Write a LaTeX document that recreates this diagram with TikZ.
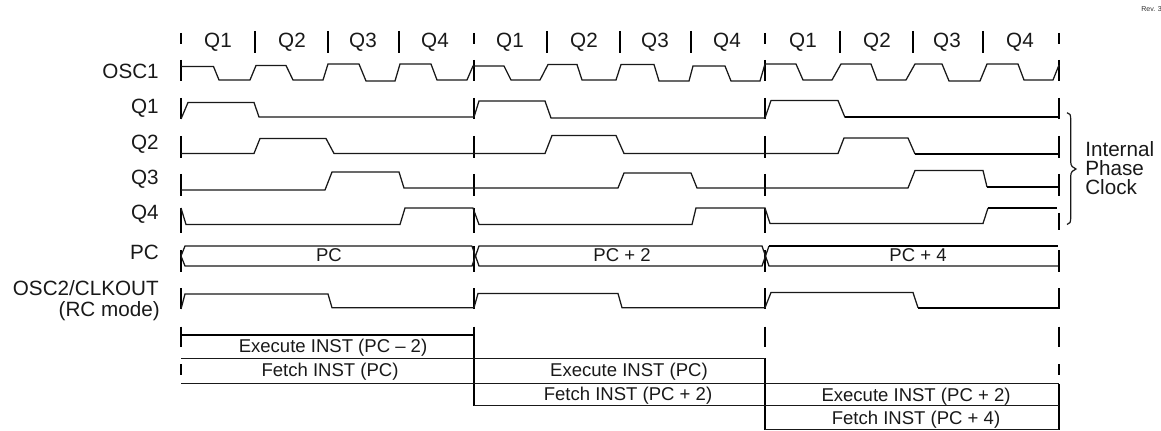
\documentclass[tikz,border=0pt]{standalone}
\usepackage{fontspec}
\setmainfont{Liberation Sans}
\tikzset{
  x=0.75pt,y=-0.75pt,
  wave/.style={line width=0.95pt,line join=miter,black!90},
  heavy/.style={line width=1.5pt,black},
  tick/.style={line width=1.7pt,black},
  rule/.style={line width=0.95pt,black!90},
  big/.style={font=\fontsize{15.5}{15.5}\selectfont,inner sep=0pt,text=black!90,anchor=base},
  mid/.style={font=\fontsize{13.9}{13.9}\selectfont,inner sep=0pt,text=black!90,anchor=base},
  lab/.style={big,anchor=base east},
  side/.style={big,anchor=base west},
}
\begin{document}
\begin{tikzpicture}
\useasboundingbox (0,0) rectangle (1161,431);
% top ticks
\foreach \x/\a/\b in {181/33/44,255/31/53,328/31/53,399/31/53,474/33/44,547/31/53,620/31/53,691/31/53,765/33/44,840/31/53,913/31/53,983/31/53,1059/33/44}
  \draw[tick] (\x,\a) -- (\x,\b);
% signal ticks
\foreach \a/\b in {60/81,98/119,136/158,174/196,208/233,288/309}
  \foreach \x in {181,474,765} \draw[tick] (\x,\a) -- (\x,\b);
\foreach \a/\b in {60/81,98/119,136/158,174/196,213/230,288/309}
  \draw[tick] (1059,\a) -- (1059,\b);
\foreach \x in {181,474,765} \draw[tick] (\x,250) -- (\x,272);
\draw[tick] (474,246) -- (474,272);
\draw[tick] (1059,250) -- (1059,272);
% lower ticks
\draw[tick] (181,326.5) -- (181,347);
\draw[tick] (181,364) -- (181,375);
\draw[tick] (474,326.5) -- (474,406);
\draw[tick] (765,326.5) -- (765,347);
\draw[tick] (765,358) -- (765,430);
\draw[tick] (1059,326.5) -- (1059,347);
\draw[tick] (1059,364) -- (1059,375);
\draw[tick] (1059,384) -- (1059,430);
% OSC1
\draw[wave] (181,66.5)--(213.5,66.5)--(219,80)--(250,80)--(256,65.5)--(286,65.5)--(293,80)--(323,80)--(328,64)--(359,64)--(366,81)--(395,81)--(400,64)--(431,64)--(437,80)--(467,80)--(473,66)--(504,66)--(511,80)--(540,80)--(548,64.5)--(577,64.5)--(582,80)--(616,80)--(621,64.5)--(654,64.5)--(659,81)--(689,81)--(693,66)--(725,66)--(731,81)--(760,81)--(765,64)--(796,64)--(803,80)--(832,80)--(841,64)--(871,64)--(877,80)--(906,80)--(915,64)--(942,64)--(949,81)--(980,81)--(987,64)--(1018,64)--(1024,80)--(1053,80)--(1059,65);
% Q1
\draw[wave] (181,119)--(188,102.5)--(254,102.5)--(259,117)--(474,117)--(479,101)--(545,101)--(551,118)--(765,118)--(771,100.5)--(838,100.5)--(845,117.5);
\draw[heavy] (845,117.5)--(1058,117.5);
% Q2
\draw[wave] (181,153.5)--(254,153.5)--(260,138.5)--(326,138.5)--(334,153.5)--(545,153.5)--(552,135.5)--(616,135.5)--(624,153.5)--(838,153.5)--(844,138)--(908,138)--(915,154);
\draw[heavy] (915,154)--(1058,154);
% Q3
\draw[wave] (181,190)--(325,190)--(332,172)--(399,172)--(404,188)--(618,188)--(624,173)--(691,173)--(697,188)--(908,188)--(915,170.5)--(983,170.5)--(987,187);
\draw[heavy] (987,187)--(1058,187);
% Q4
\draw[wave] (181,208)--(186,224.5)--(400,224.5)--(405,208)--(473,208)--(479,224.5)--(692,224.5)--(696,208)--(765,208)--(770,223.5)--(983,223.5)--(988,208);
\draw[heavy] (988,208)--(1057,208);
% PC bus
\draw[wave] (472,246)--(185,246)--(181,256)--(185,266)--(472,266)--(479,246)--(762,246)--(769,266)--(1058,266);
\draw[wave] (472,246)--(479,266)--(762,266)--(769,246);
\draw[heavy] (769,246)--(1058,246);
% OSC2
\draw[wave] (181,309)--(185,294)--(328,294)--(332,307.7)--(474,307.7)--(478,293.5)--(618,293.5)--(622,307.7)--(765,307.7)--(771,292.5)--(913,292.5)--(918,307.7);
\draw[heavy] (918,307.7)--(1059,307.7);
% activity rows
\draw[heavy] (181,335) -- (474,335);
\draw[rule] (181,358.3) -- (765,358.3);
\draw[rule] (181,383.5) -- (1059,383.5);
\draw[rule] (474,405.5) -- (1059,405.5);
\draw[rule] (765,429.7) -- (1059,429.7);
% brace
\draw[line width=0.9pt,black!90] (1067,112.7) .. controls (1070,113) and (1070.7,115) .. (1070.7,119) -- (1070.7,162) .. controls (1070.7,166) and (1073,168) .. (1076,169) .. controls (1073,170) and (1070.7,172) .. (1070.7,176) -- (1070.7,218) .. controls (1070.7,222) and (1070,224) .. (1067,224.5);
% labels
\foreach \n/\x/\y/\t in {a/218/48/Q1,b/292/47.5/Q2,c/363/48/Q3,d/435/47.5/Q4,e/510/48/Q1,f/584/47.5/Q2,g/655/48/Q3,h/727/47.5/Q4,i/803/48/Q1,j/877/47.5/Q2,k/947/48/Q3,l/1020/47.5/Q4}
  \node[big] (top\n) at (\x,\y) {\t};
\node[lab] (labs) at (159,79) {OSC1};
\node[lab] (labt) at (159,114) {Q1};
\node[lab] (labu) at (159,150) {Q2};
\node[lab] (labv) at (159,185) {Q3};
\node[lab] (labw) at (159,220) {Q4};
\node[lab] (labx) at (159,259) {PC};
\node[lab] (laby) at (159,296) {OSC2/CLKOUT};
\node[lab] (labz) at (160,316.7) {(RC mode)};
\node[mid] (pc0) at (329,261.7) {PC};
\node[mid] (pc2) at (622,261.7) {PC + 2};
\node[mid] (pc4) at (918,261.7) {PC + 4};
\node[mid] (r1) at (333,352.3) {Execute INST (PC – 2)};
\node[mid] (r2) at (330,376.7) {Fetch INST (PC)};
\node[mid] (r3) at (629,376.7) {Execute INST (PC)};
\node[mid] (r4) at (628,400.7) {Fetch INST (PC + 2)};
\node[mid] (r5) at (916,401) {Execute INST (PC + 2)};
\node[mid] (r6) at (916,424) {Fetch INST (PC + 4)};
\node[side] (ipc1) at (1085,156.7) {Internal};
\node[side] (ipc2) at (1085,175.7) {Phase};
\node[side] (ipc3) at (1085,195) {Clock};
\node[font=\fontsize{5.3}{5.3}\selectfont,inner sep=0pt,anchor=base west,text=black!80] (rev) at (1141,11.5) {Rev. 3};
\end{tikzpicture}
\end{document}
